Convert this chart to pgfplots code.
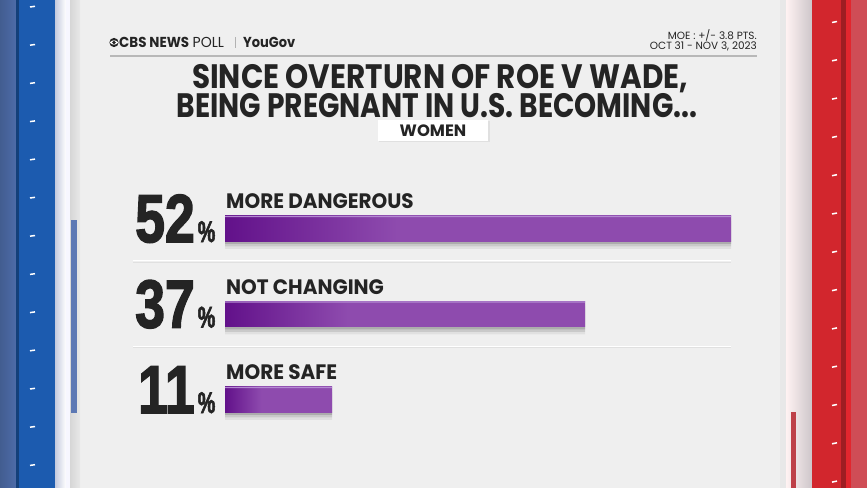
\documentclass[border=0pt]{standalone}
\usepackage{pgfplots}
\pgfplotsset{compat=1.18}
\usepackage{pgfplotstable}
\usepackage{fontspec}
\setmainfont{Poppins}
\newfontfamily\numfont{Liberation Sans}[BoldFeatures={FakeBold=2.5}]
\definecolor{bg}{HTML}{EFEFEF}
\definecolor{barA}{HTML}{62118A}
\definecolor{barB}{HTML}{8E4BAE}
\definecolor{barH}{HTML}{B48AD2}
\definecolor{txt}{HTML}{242424}
\definecolor{blueA}{HTML}{1C5BAF}
\definecolor{blueL}{HTML}{4E6DAA}
\definecolor{blueS}{RGB}{92,120,180}
\definecolor{lavL}{RGB}{196,202,222}
\definecolor{redA}{HTML}{D2262D}
\definecolor{redL}{HTML}{CF4D56}
\definecolor{redB}{RGB}{226,38,46}
\definecolor{redS}{RGB}{190,64,72}
\definecolor{pinkG}{RGB}{205,198,202}
\pgfdeclarehorizontalshading{barshade}{100bp}{color(0bp)=(barA); color(25bp)=(barA); color(42bp)=(barB); color(100bp)=(barB)}

\pgfplotstableread{
idx pct
0 11
1 37
2 52
}\datatable

\begin{document}
\begin{tikzpicture}
\begin{scope}[x=1bp,y=-1bp]
\path[use as bounding box] (0,0) rectangle (867,488);
\fill[bg] (0,0) rectangle (867,488);
% left panel
\shade[left color=blueL!85!black, right color=blueL] (0,0) rectangle (17,488);
\fill[blueA] (17,0) rectangle (55,488);
\fill[blueA!70!black] (16,0) rectangle (19,488);
\shade[left color=lavL, right color=white] (55,0) rectangle (66,488);
\fill[white!97!blue] (66,0) rectangle (70,488);
\shade[left color=black!16, right color=black!9] (70,0) rectangle (80,488);
\fill[blueS] (71,220) rectangle (77,413);
\foreach \i in {0,...,12} \draw[white, line width=1.5bp] (30,{7+38.2*\i}) -- (35,{6.3+38.2*\i});
% right panel
\fill[black!9] (780,0) rectangle (786,488);
\shade[left color=white!95!red, right color=pinkG] (786,0) rectangle (812,488);
\fill[redS] (791,412) rectangle (796,488);
\fill[redA] (812,0) rectangle (841,488);
\fill[redA!75!black] (841,0) rectangle (846,488);
\fill[redB] (846,0) rectangle (851,488);
\fill[redL] (851,0) rectangle (867,488);
\foreach \i in {0,...,12} \draw[white, line width=1.5bp] (832,{22.5+38.3*\i}) -- (837,{21.5+38.3*\i});
% header
\fill[txt] (114,42.5) circle (4.6);
\fill[white] (109.8,42.5) .. controls (112,39.6) and (116,39.6) .. (118.2,42.5) .. controls (116,45.4) and (112,45.4) .. (109.8,42.5) -- cycle;
\fill[txt] (114,42.5) circle (1.9);
\node[anchor=base west, inner sep=0, txt] at (119,48) {\scalebox{0.93}[1]{\fontsize{14.5}{14.5}\selectfont\bfseries CBS NEWS}\hspace{3.5bp}\scalebox{0.97}[1]{\fontsize{14.5}{14.5}\selectfont POLL}};
\draw[black!30, line width=0.7bp] (235.5,37) -- (235.5,48);
\node[anchor=base west, inner sep=0, txt] at (243,48) {\scalebox{0.9}[1]{\fontsize{14.5}{14.5}\selectfont\bfseries YouGov}};
\node[anchor=base east, inner sep=0, txt] at (757,40) {\fontsize{10.5}{10.5}\selectfont MOE : +/- 3.8 PTS.};
\node[anchor=base east, inner sep=0, txt] at (757,50) {\fontsize{10.5}{10.5}\selectfont OCT 31 - NOV 3, 2023};
\draw[black!28, line width=1.4bp] (110,56) -- (757,56);
% title
\node[anchor=base, inner sep=0, text depth=0pt, txt] at (440,89) {\scalebox{0.87}[1]{\fontsize{34}{34}\selectfont\bfseries SINCE OVERTURN OF ROE V WADE,}};
\node[anchor=base, inner sep=0, text depth=0pt, txt] at (437,117.5) {\scalebox{0.83}[1]{\fontsize{34}{34}\selectfont\bfseries BEING PREGNANT IN U.S. BECOMING...}};
% women box
\fill[black!12] (379,121.5) rectangle (489.5,142.5);
\fill[white] (378,120) rectangle (488,141);
\node[anchor=base, inner sep=0, txt] at (433,136.5) {\fontsize{16.5}{16.5}\selectfont\bfseries WOMEN};
% separators
\draw[black!12, line width=1.2bp] (133,262.5) -- (731,262.5);
\draw[white, line width=1bp] (133,261) -- (731,261);
\draw[black!12, line width=1.2bp] (133,347.5) -- (731,347.5);
\draw[white, line width=1bp] (133,346) -- (731,346);
\end{scope}

\begin{axis}[at={(225bp,-442.25bp)}, anchor=south west, scale only axis,
  width=506bp, height=256.5bp, xmin=0, xmax=52, ymin=-0.5, ymax=2.5,
  hide axis, clip=false, xbar, bar width=25.5bp]
\addplot[draw=none, fill=black, opacity=0.06, bar shift=-7.5bp] table[x=pct,y=idx]{\datatable};
\addplot[draw=none, fill=black, opacity=0.10, bar shift=-5bp] table[x=pct,y=idx]{\datatable};
\addplot[draw=none, fill=black, opacity=0.14, bar shift=-2.5bp] table[x=pct,y=idx]{\datatable};
\addplot[draw=none, shade, shading=barshade, shading angle=0, bar shift=0pt] coordinates {(52,2)};
\addplot[draw=none, shade, shading=barshade, shading angle=0, bar shift=0pt] coordinates {(37,1)};
\addplot[draw=none, shade, shading=barshade, shading angle=0, bar shift=0pt] coordinates {(11,0)};
\addplot[draw=none, fill=barH, bar width=1.3bp, bar shift=12.1bp] table[x=pct,y=idx]{\datatable};
\foreach \y/\v/\l in {2/52/MORE DANGEROUS, 1/37/NOT CHANGING, 0/11/MORE SAFE}{
  \edef\temp{\noexpand\node[anchor=base west, inner sep=0, text=txt, xshift=1bp, yshift=19.75bp] at (axis cs:0,\y) {\noexpand\scalebox{0.955}[1]{\noexpand\fontsize{21}{21}\noexpand\selectfont\noexpand\bfseries \l}};
  \noexpand\node[anchor=base east, inner sep=0, text=txt, xshift=-9.5bp, yshift=-13.5bp] at (axis cs:0,\y) {\noexpand\numfont\noexpand\bfseries\noexpand\scalebox{0.79}[1]{\noexpand\fontsize{68}{68}\noexpand\selectfont \v}\noexpand\hspace{3bp}\noexpand\scalebox{0.66}[1]{\noexpand\fontsize{30}{30}\noexpand\selectfont\noexpand\%}};}
  \temp
}
\end{axis}
\end{tikzpicture}
\end{document}
